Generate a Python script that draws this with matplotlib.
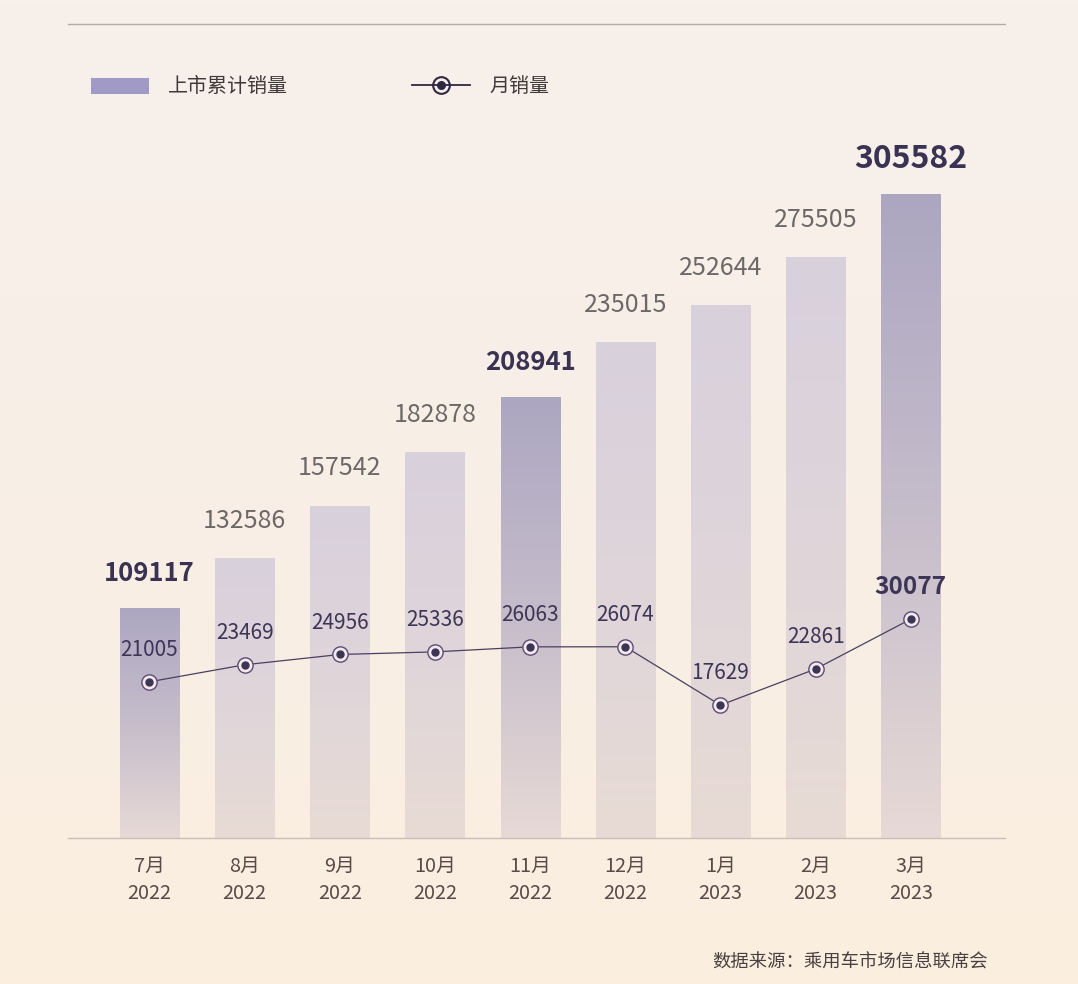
import numpy as np
import matplotlib
matplotlib.use("Agg")
import matplotlib.pyplot as plt
from matplotlib.patches import Patch
from matplotlib.lines import Line2D
from matplotlib.legend_handler import HandlerTuple
from matplotlib.colors import LinearSegmentedColormap

plt.rcParams['font.family'] = ['Noto Sans CJK SC', 'DejaVu Sans']

# ---------------- data ----------------
months = ["7月", "8月", "9月", "10月", "11月", "12月", "1月", "2月", "3月"]
years = ["2022", "2022", "2022", "2022", "2022", "2022", "2023", "2023", "2023"]
cumulative = [109117, 132586, 157542, 182878, 208941, 235015, 252644, 275505, 305582]
monthly = [21005, 23469, 24956, 25336, 26063, 26074, 17629, 22861, 30077]
highlight = [True, False, False, False, True, False, False, False, True]
legend_labels = ["上市累计销量", "月销量"]
source_text = "数据来源：乘用车市场信息联席会"

W, H = 1078, 984
fig = plt.figure(figsize=(W / 100, H / 100), dpi=100)

# background gradient
bg = fig.add_axes([0, 0, 1, 1], zorder=-10)
bg_cmap = LinearSegmentedColormap.from_list("bg", ["#f7f0eb", "#f8efe6", "#fbeedf"])
bg.imshow(np.linspace(0, 1, 256).reshape(-1, 1), cmap=bg_cmap, aspect="auto",
          extent=[0, 1, 0, 1], origin="upper")
bg.set_axis_off()

ax = fig.add_axes([68 / W, 1 - 838 / H, (1005 - 68) / W, (838 - 24) / H])
ax.set_facecolor("none")
x = np.arange(len(months))
ax.set_xlim(-0.856, 8.99)
ax.set_ylim(0, 386000)

bars = ax.bar(x, cumulative, width=0.62, color="none", edgecolor="none", zorder=2)
dark_cmap = LinearSegmentedColormap.from_list("dk", ["#aca6c1", "#c6bdcb", "#e7d9d6"])
light_cmap = LinearSegmentedColormap.from_list("lt", ["#d8d0dc", "#dfd5da", "#e8dbd5"])
grad = np.linspace(0, 1, 256).reshape(-1, 1)
for b, hl in zip(bars, highlight):
    x0, w, h = b.get_x(), b.get_width(), b.get_height()
    im = ax.imshow(grad, cmap=dark_cmap if hl else light_cmap, aspect="auto",
                   extent=[x0, x0 + w, 0, h], origin="upper", zorder=2)
    im.set_clip_path(b)

# cumulative labels
for xi, v, hl in zip(x, cumulative, highlight):
    if hl:
        fs = 23 if v == max(cumulative) else 18.5
        ax.annotate(f"{v}", (xi, v), xytext=(0, 25), textcoords="offset points",
                    ha="center", va="center", fontsize=fs, fontweight="bold",
                    color="#3a3252", zorder=5)
    else:
        ax.annotate(f"{v}", (xi, v), xytext=(0, 27), textcoords="offset points",
                    ha="center", va="center", fontsize=18, color="#6e6767", zorder=5)

ax.set_xticks(x)
ax.set_xticklabels([f"{m}\n{y}" for m, y in zip(months, years)], fontsize=14.3,
                   color="#5a4a48", linespacing=1.35)
ax.tick_params(axis="x", length=0, pad=13)
ax.set_yticks([])
for s in ["left", "right"]:
    ax.spines[s].set_visible(False)
ax.spines["bottom"].set_color("#c9bfb8")
ax.spines["bottom"].set_linewidth(1.0)
ax.spines["top"].set_color("#b5aca8")
ax.spines["top"].set_linewidth(1.0)

# monthly line
ax2 = ax.twinx()
ax2.set_ylim(-1600, 116200)
ax2.set_axis_off()
ax2.plot(x, monthly, color="#4a4060", lw=0.9, zorder=3)
ax2.plot(x, monthly, ls="none", marker="o", ms=11, mfc="#f3e9ea", mec="#5a4c78",
         mew=1.0, zorder=4)
ax2.plot(x, monthly, ls="none", marker="o", ms=5, mfc="#3d3556", mec="#3d3556", zorder=5)
for xi, v in zip(x, monthly):
    if v == monthly[-1]:
        ax2.annotate(f"{v}", (xi, v), xytext=(0, 23), textcoords="offset points",
                     ha="center", va="center", fontsize=17.5, fontweight="semibold",
                     color="#3d3556", zorder=6)
    else:
        ax2.annotate(f"{v}", (xi, v), xytext=(0, 23), textcoords="offset points",
                     ha="center", va="center", fontsize=15, color="#3d3556", zorder=6)

# legend
h_bar = Patch(facecolor="#9f9ac6", edgecolor="none")
h_line = Line2D([], [], color="#2e2840", lw=1.3)
h_ring = Line2D([], [], ls="none", marker="o", ms=12, mfc="none", mec="#2e2840", mew=1.5)
h_dot = Line2D([], [], ls="none", marker="o", ms=5.5, mfc="#2e2840", mec="#2e2840")
fig.legend([h_bar, (h_line, h_ring, h_dot)], legend_labels,
           handler_map={tuple: HandlerTuple(ndivide=1, pad=0)},
           loc="center left", bbox_to_anchor=(91 / W, 1 - 87 / H), ncol=2,
           frameon=False, fontsize=14.4, labelcolor="#3e3a3a",
           handlelength=2.9, handleheight=0.85, handletextpad=0.95,
           columnspacing=6.2, borderpad=0, borderaxespad=0)

fig.text(988 / W, 1 - 963 / H, source_text, ha="right", va="center",
         fontsize=13.2, color="#4a4040")

fig.savefig("out.png", dpi=100)
